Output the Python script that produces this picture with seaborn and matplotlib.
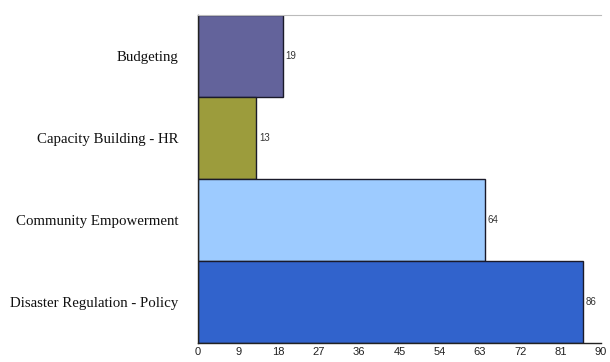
import matplotlib
matplotlib.use("Agg")
import matplotlib.pyplot as plt
import seaborn as sns
import pandas as pd

categories = ["Budgeting", "Capacity Building - HR", "Community Empowerment", "Disaster Regulation - Policy"]
values = [19, 13, 64, 86]
colors = ["#63639b", "#9c9c3c", "#9dcbff", "#3163cc"]
xticks = [0, 9, 18, 27, 36, 45, 54, 63, 72, 81, 90]

sns.set_theme(style="white")
df = pd.DataFrame({"category": categories, "value": values})

fig = plt.figure(figsize=(6.10, 3.62), dpi=100)
ax = fig.add_axes([198/610, 19/362, 403/610, 328/362])
sns.barplot(data=df, y="category", x="value", hue="category", palette=colors,
            saturation=1, width=1.0, edgecolor="#1a1a2a", linewidth=1.0,
            dodge=False, legend=False, ax=ax)

for i, v in enumerate(values):
    ax.text(v + 0.6, i, str(v), va="center", ha="left", fontsize=7,
            color="#333333", family="Liberation Sans")

ax.set_xlim(0, 90)
ax.set_ylim(3.5, -0.5)
ax.set_xticks(xticks)
ax.set_xticklabels([str(t) for t in xticks], fontsize=8, family="Liberation Sans", color="#222222")
ax.set_yticks(range(len(categories)))
ax.set_yticklabels(categories, fontsize=10.7, family="Liberation Serif", color="#111111")
ax.tick_params(axis="y", length=0, pad=14)
ax.tick_params(axis="x", length=0, pad=3)
ax.set_xlabel("")
ax.set_ylabel("")

ax.spines["right"].set_visible(False)
ax.spines["top"].set_color("#bbbbbb")
ax.spines["top"].set_linestyle((0, (1, 1)))
ax.spines["top"].set_linewidth(0.8)
for s in ["left", "bottom"]:
    ax.spines[s].set_color("#222222")
    ax.spines[s].set_linewidth(1.0)

fig.savefig("out.png", dpi=100)
